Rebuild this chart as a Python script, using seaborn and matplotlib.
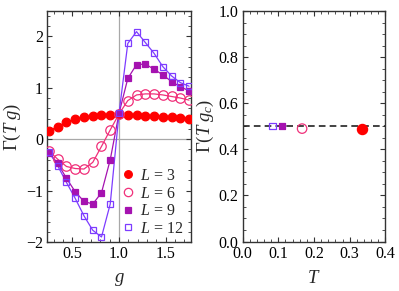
import numpy as np
import pandas as pd
import matplotlib
matplotlib.use("Agg")
import matplotlib.pyplot as plt
from matplotlib.ticker import MultipleLocator
import seaborn as sns

# ---- data ----
g_vals = [0.25, 0.344, 0.4375, 0.531, 0.625, 0.719, 0.8125, 0.906, 1.0,
          1.094, 1.1875, 1.281, 1.375, 1.469, 1.5625, 1.656, 1.75]
gamma_L3 = [0.16, 0.245, 0.33, 0.39, 0.43, 0.45, 0.465, 0.475, 0.485,
            0.475, 0.465, 0.455, 0.445, 0.435, 0.425, 0.415, 0.40]
gamma_L6 = [-0.23, -0.39, -0.53, -0.57, -0.58, -0.45, -0.14, 0.18, 0.49,
            0.75, 0.86, 0.88, 0.88, 0.86, 0.83, 0.80, 0.76]
gamma_L9 = [-0.26, -0.47, -0.76, -1.02, -1.21, -1.26, -1.04, -0.40, 0.50,
            1.18, 1.45, 1.46, 1.36, 1.25, 1.12, 1.02, 0.94]
gamma_L12 = [-0.25, -0.52, -0.84, -1.15, -1.49, -1.77, -1.90, -1.26, 0.50,
             1.86, 2.09, 1.88, 1.67, 1.41, 1.23, 1.10, 1.03]
sizes = [3, 6, 9, 12]
T_vals = [1/3, 1/6, 1/9, 1/12]
gamma_c = [0.49, 0.49, 0.50, 0.50]

colors = ["#ff0000", "#f0307a", "#a512b0", "#7d3cff"]
markers = ["o", "o", "s", "s"]
filled = [True, False, True, False]
msizes = [6.2, 6.8, 4.6, 4.6]
leg_msizes = [5.5, 6.0, 4.4, 4.4]

rows = []
for L, ys in zip(sizes, [gamma_L3, gamma_L6, gamma_L9, gamma_L12]):
    for g, y in zip(g_vals, ys):
        rows.append({"L": L, "g": g, "Gamma": y})
df = pd.DataFrame(rows)
df_c = pd.DataFrame({"L": sizes, "T": T_vals, "Gamma": gamma_c})

sns.set_theme(style="ticks")
plt.rcParams.update({
    "font.family": ["Liberation Serif", "DejaVu Serif"],
    "mathtext.fontset": "custom",
    "mathtext.rm": "Liberation Serif",
    "mathtext.it": "Liberation Serif:italic",
    "font.size": 11,
    "xtick.labelsize": 11.5,
    "ytick.labelsize": 11.5,
})

fig = plt.figure(figsize=(3.99, 2.91), dpi=100)
ax1 = fig.add_axes([0.1185, 0.168, 0.360, 0.794])
ax2 = fig.add_axes([0.608, 0.170, 0.358, 0.792])

ax1.axhline(0, color="#a8a8a8", lw=0.9, zorder=0)
ax1.axvline(1.0, color="#a8a8a8", lw=0.9, zorder=0)

for i, L in enumerate(sizes):
    sub = df[df["L"] == L]
    sns.lineplot(data=sub, x="g", y="Gamma", ax=ax1, color=colors[i], lw=0.9,
                 marker=None, legend=False, sort=True)
    ax1.plot(sub["g"], sub["Gamma"], ls="none", marker=markers[i],
             ms=msizes[i], mec=colors[i], mew=0.9,
             mfc=colors[i] if filled[i] else "none", zorder=3)

ax1.set_xlim(0.232, 1.77)
ax1.set_ylim(-2.0, 2.49)
ax1.xaxis.set_major_locator(MultipleLocator(0.5))
ax1.xaxis.set_minor_locator(MultipleLocator(0.1))
ax1.yaxis.set_major_locator(MultipleLocator(1))
ax1.yaxis.set_minor_locator(MultipleLocator(0.2))
ax1.xaxis.set_major_formatter(matplotlib.ticker.FuncFormatter(lambda v, p: f"{v:.1f}"))
ax1.yaxis.set_major_formatter(matplotlib.ticker.FuncFormatter(
    lambda v, p: ("\u2212" if v < 0 else "") + f"{abs(v):.0f}"))
ax1.set_xlabel("$g$", fontsize=13.5, labelpad=6)
ax1.set_ylabel(r"$\Gamma(T\;g)$", fontsize=13.5, labelpad=2)

leg_handles = [plt.Line2D([], [], ls="none", marker=markers[i], ms=leg_msizes[i],
                          mec=colors[i], mew=0.9,
                          mfc=colors[i] if filled[i] else "none")
               for i in range(len(sizes))]
leg = ax1.legend(leg_handles, [f"$L$ = {L}" for L in sizes], loc="lower right",
                 frameon=False, fontsize=11.5, handlelength=0.8, handletextpad=0.35,
                 labelspacing=0.1, borderaxespad=0.0, bbox_to_anchor=(0.99, -0.005))

# right panel
ax2.axhline(0.5, color="#222222", lw=1.2, ls=(0, (4, 2.5)), zorder=1)
for i, L in enumerate(sizes):
    sub = df_c[df_c["L"] == L]
    sns.scatterplot(data=sub, x="T", y="Gamma", ax=ax2, marker=markers[i],
                    s=msizes[i] ** 2 * (1.4 if i == 0 else 1.0),
                    edgecolor=colors[i], linewidth=0.9,
                    facecolor=colors[i] if filled[i] else "none", legend=False,
                    zorder=3)
ax2.set_xlim(0, 0.4)
ax2.set_ylim(0, 1.0)
ax2.xaxis.set_major_locator(MultipleLocator(0.1))
ax2.xaxis.set_minor_locator(MultipleLocator(0.02))
ax2.yaxis.set_major_locator(MultipleLocator(0.2))
ax2.yaxis.set_minor_locator(MultipleLocator(0.05))
ax2.xaxis.set_major_formatter(matplotlib.ticker.FuncFormatter(lambda v, p: f"{v:.1f}"))
ax2.yaxis.set_major_formatter(matplotlib.ticker.FuncFormatter(lambda v, p: f"{v:.1f}"))
ax2.set_xlabel("$T$", fontsize=13.5, labelpad=6)
ax2.set_ylabel(r"$\Gamma(T\;g_c)$", fontsize=13.5, labelpad=2)

for ax in (ax1, ax2):
    for sp in ax.spines.values():
        sp.set_visible(True)
        sp.set_color("#333333")
        sp.set_linewidth(1.0)
    ax.tick_params(which="both", direction="in", top=True, right=True,
                   colors="#333333", labelcolor="black", pad=3)
    ax.tick_params(which="major", length=3.5, width=0.8)
    ax.tick_params(which="minor", length=2, width=0.6)

fig.savefig("out.png", dpi=100)
